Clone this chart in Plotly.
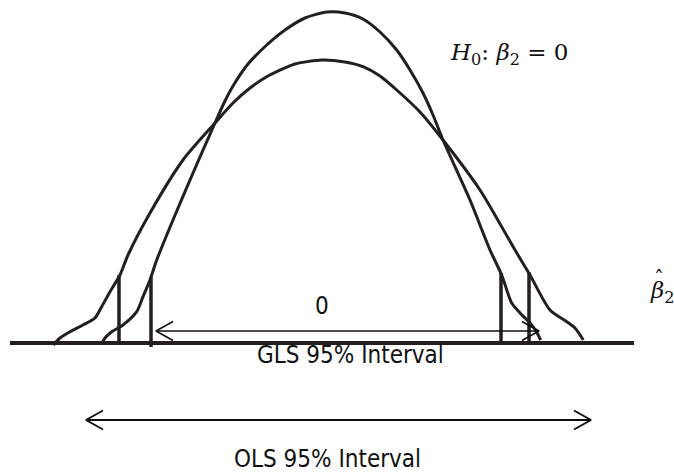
import plotly.graph_objects as go

# ---- data (pixel space of the 674x473 page) ----
gls_x = [101.7, 105, 111.7, 123, 136.7, 143, 150, 156.7, 173, 193, 215, 224, 233, 248, 266.7,
         285, 305, 327, 345, 363, 380, 396.7, 410, 423, 433, 443, 470, 490, 501.7, 511.7, 522,
         530, 536, 540.7]
gls_y = [344, 338, 331.7, 325, 311.7, 296.7, 280, 260, 220, 173, 123, 103, 86, 64, 45,
         30, 18, 12, 13, 19, 32, 50, 70, 93, 115, 140, 200, 250, 275, 303, 315,
         323, 331, 340]

ols_x = [53.3, 60, 70, 83, 95, 101.7, 110, 120, 128, 150, 183, 215, 233, 250, 266.7, 295, 322,
         345, 363, 380, 396.7, 420, 443, 480, 515, 530, 550, 566.7, 575, 583.3]
ols_y = [345, 338, 331.7, 325, 318, 306.7, 291.7, 275, 255, 213, 160, 123, 103, 88, 76.7, 64, 60,
         62, 66.7, 76, 90, 112, 140, 190, 250, 275, 310, 321.7, 328, 340]

axis_x = [10, 634]
axis_y = 343

bar_x = [119, 151, 501, 529]
bar_top = [275, 277, 273, 272]
bar_bottom = [343, 347, 343, 343]

gls_interval = [156, 539]
gls_interval_y = 331
ols_interval = [86, 591]
ols_interval_y = 420

label_text = ["0", "GLS 95% Interval", "OLS 95% Interval"]
label_x = [322, 350, 327]
label_y = [306, 355, 459]

hyp_text = "<i>H</i><sub>0</sub>: <i>β</i><sub>2</sub> = 0"
hyp_pos = (509, 54)
axis_label = "<i>β</i><sub>2</sub>"
axis_label_pos = (648, 292)
hat_text = "ˆ"
hat_pos = (659, 279)

INK = "#231f20"
HEAD_L, HEAD_H = 17, 9.5

PAGE_W, PAGE_H = 674, 473

fig = go.Figure()

# baseline
fig.add_trace(go.Scatter(x=axis_x, y=[axis_y, axis_y], mode="lines",
                         line=dict(color=INK, width=4), hoverinfo="skip"))
# curves
for cx, cy in [(ols_x, ols_y), (gls_x, gls_y)]:
    fig.add_trace(go.Scatter(x=cx, y=cy, mode="lines",
                             line=dict(color=INK, width=3, shape="spline", smoothing=0.7),
                             hoverinfo="skip"))
# critical-value bars
for bx, bt, bb in zip(bar_x, bar_top, bar_bottom):
    fig.add_trace(go.Scatter(x=[bx, bx], y=[bt, bb], mode="lines",
                             line=dict(color=INK, width=3.5), hoverinfo="skip"))


def double_arrow(x0, x1, y, width):
    xs = [x0 + HEAD_L, x0, x0 + HEAD_L, None, x0, x1, None,
          x1 - HEAD_L, x1, x1 - HEAD_L]
    ys = [y - HEAD_H, y, y + HEAD_H, None, y, y, None,
          y - HEAD_H, y, y + HEAD_H]
    fig.add_trace(go.Scatter(x=xs, y=ys, mode="lines",
                             line=dict(color="#111111", width=width), hoverinfo="skip"))


double_arrow(gls_interval[0], gls_interval[1], gls_interval_y, 1.6)
double_arrow(ols_interval[0], ols_interval[1], ols_interval_y, 2)

label_font = dict(family="Liberation Sans Narrow, DejaVu Sans Condensed, sans-serif",
                  size=24, color="#111111")
for t, lx, ly in zip(label_text, label_x, label_y):
    fig.add_annotation(x=lx, y=ly, text=t, showarrow=False, font=label_font,
                       xanchor="center", yanchor="middle")

math_font = dict(family="DejaVu Serif, Liberation Serif, serif", size=23, color="#111111")
fig.add_annotation(x=hyp_pos[0], y=hyp_pos[1], text=hyp_text, showarrow=False,
                   font=math_font, xanchor="center", yanchor="middle")
fig.add_annotation(x=axis_label_pos[0], y=axis_label_pos[1], text=axis_label,
                   showarrow=False, font=math_font, xanchor="left", yanchor="middle")
fig.add_annotation(x=hat_pos[0], y=hat_pos[1], text=hat_text,
                   showarrow=False, font=dict(family="DejaVu Serif, serif", size=20, color="#111111"),
                   xanchor="center", yanchor="middle")

fig.update_layout(
    width=PAGE_W, height=PAGE_H,
    margin=dict(l=0, r=0, t=0, b=0),
    paper_bgcolor="white", plot_bgcolor="white",
    showlegend=False,
    xaxis=dict(range=[0, PAGE_W], visible=False, fixedrange=True),
    yaxis=dict(range=[PAGE_H, 0], visible=False, fixedrange=True),
)

fig.write_html(
    "out.html",
    config={"displayModeBar": False, "staticPlot": True},
    post_script="document.body.style.margin='0';document.body.style.overflow='hidden';",
)
